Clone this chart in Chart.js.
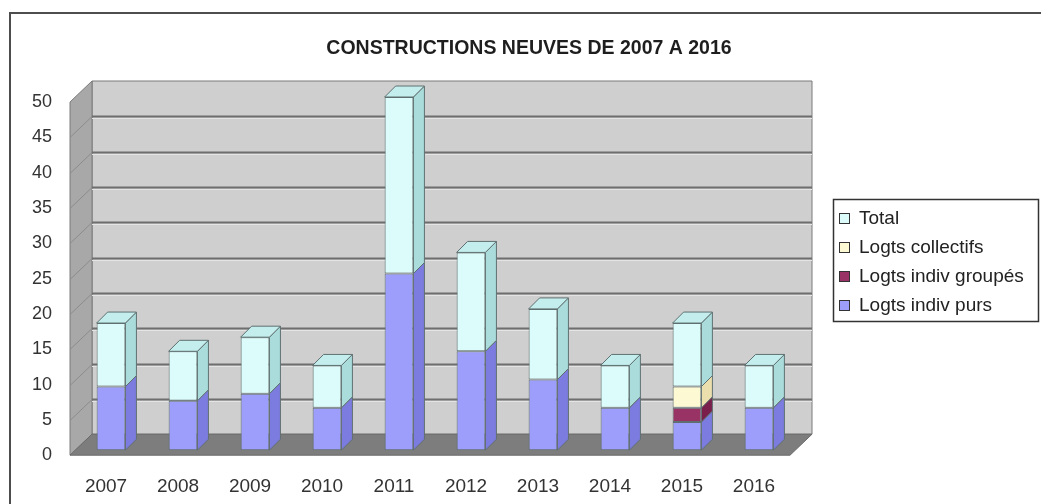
<!DOCTYPE html>
<html lang="fr">
<head>
<meta charset="utf-8">
<title>Constructions neuves de 2007 à 2016</title>
<script src="https://cdn.jsdelivr.net/npm/chart.js@4.4.1/dist/chart.umd.min.js"></script>
<style>
    html, body { margin: 0; padding: 0; background: #ffffff; }
    #wrap { width: 1041px; height: 504px; }
</style>
</head>
<body>
<div id="wrap"><canvas id="constructionsChart" width="1041" height="504"></canvas></div>
<script>
/* ================================
   CONSTRUCTIONS NEUVES 2007 - 2016
   ================================ */

// Chart data
const years = ['2007', '2008', '2009', '2010', '2011', '2012', '2013', '2014', '2015', '2016'];
const indivPurs = [9, 7, 8, 6, 25, 14, 10, 6, 4, 6];
const indivGroupes = [0, 0, 0, 0, 0, 0, 0, 0, 2, 0];
const collectifs = [0, 0, 0, 0, 0, 0, 0, 0, 3, 0];
const total = [9, 7, 8, 6, 25, 14, 10, 6, 9, 6];
const yMax = 50;
const yStep = 5;

const chartTitle = 'CONSTRUCTIONS NEUVES DE 2007 A 2016';
const FONT = '"Liberation Sans", Arial, sans-serif';

// 3D depth of the walls and of the bars
const WALL_DX = 22, WALL_DY = 21;
const BAR_DX = 11, BAR_DY = 11;
const BAR_SHIFT = 5;

function fillPoly(ctx, pts, fill, stroke) {
    ctx.beginPath();
    ctx.moveTo(pts[0][0], pts[0][1]);
    for (let i = 1; i < pts.length; i++) ctx.lineTo(pts[i][0], pts[i][1]);
    ctx.closePath();
    ctx.fillStyle = fill;
    ctx.fill();
    if (stroke) {
        ctx.strokeStyle = stroke;
        ctx.lineWidth = 1;
        ctx.stroke();
    }
}

// Fake 3D: walls, floor, bar sides and tops
const threeDPlugin = {
    id: 'threeD',
    beforeDatasetsDraw(chart) {
        const ctx = chart.ctx;
        const a = chart.chartArea;
        const y = chart.scales.y;
        ctx.save();

        // back wall
        fillPoly(ctx, [
            [a.left + WALL_DX, a.top - WALL_DY], [a.right + WALL_DX, a.top - WALL_DY],
            [a.right + WALL_DX, a.bottom - WALL_DY], [a.left + WALL_DX, a.bottom - WALL_DY]
        ], '#cfcfcf', '#7a7a7a');

        // left wall
        fillPoly(ctx, [
            [a.left, a.top], [a.left + WALL_DX, a.top - WALL_DY],
            [a.left + WALL_DX, a.bottom - WALL_DY], [a.left, a.bottom]
        ], '#a8a8a8', '#7a7a7a');

        // grid lines on the walls
        y.ticks.forEach(function(t) {
            if (t.value <= 0 || t.value >= yMax) return;
            const py = Math.round(y.getPixelForValue(t.value)) + 0.5;
            ctx.strokeStyle = '#6e6e6e';
            ctx.lineWidth = 2;
            ctx.beginPath();
            ctx.moveTo(a.left + WALL_DX, py - WALL_DY);
            ctx.lineTo(a.right + WALL_DX, py - WALL_DY);
            ctx.stroke();
            ctx.strokeStyle = '#e4e4e4';
            ctx.lineWidth = 1;
            ctx.beginPath();
            ctx.moveTo(a.left + WALL_DX, py - WALL_DY + 2);
            ctx.lineTo(a.right + WALL_DX, py - WALL_DY + 2);
            ctx.stroke();
            ctx.strokeStyle = '#8c8c8c';
            ctx.lineWidth = 1;
            ctx.beginPath();
            ctx.moveTo(a.left, py);
            ctx.lineTo(a.left + WALL_DX, py - WALL_DY);
            ctx.stroke();
        });

        // floor
        fillPoly(ctx, [
            [a.left, a.bottom], [a.right, a.bottom],
            [a.right + WALL_DX, a.bottom - WALL_DY], [a.left + WALL_DX, a.bottom - WALL_DY]
        ], '#7d7d7d', '#6a6a6a');

        ctx.restore();

        // bars stand a little inside the floor
        ctx.save();
        ctx.translate(BAR_SHIFT, -BAR_SHIFT);
    },
    afterDatasetsDraw(chart) {
        const ctx = chart.ctx;
        const metas = chart.getSortedVisibleDatasetMetas().slice().sort(function(m1, m2) { return m1.index - m2.index; });

        years.forEach(function(year, i) {
            // topmost non empty segment gets the top face
            let topIndex = -1;
            metas.forEach(function(meta, k) {
                if (chart.data.datasets[meta.index].data[i] > 0) topIndex = k;
            });
            metas.forEach(function(meta, k) {
                const ds = chart.data.datasets[meta.index];
                if (!(ds.data[i] > 0)) return;
                const el = meta.data[i];
                const p = el.getProps(['x', 'y', 'base', 'width'], true);
                const left = p.x - p.width / 2;
                const right = p.x + p.width / 2;
                fillPoly(ctx, [
                    [right, p.y], [right + BAR_DX, p.y - BAR_DY],
                    [right + BAR_DX, p.base - BAR_DY], [right, p.base]
                ], ds.sideColor, '#607070');
                if (k === topIndex) {
                    fillPoly(ctx, [
                        [left, p.y], [right, p.y],
                        [right + BAR_DX, p.y - BAR_DY], [left + BAR_DX, p.y - BAR_DY]
                    ], ds.topColor, '#607070');
                }
            });
        });

        ctx.restore();
    },
    afterDraw(chart) {
        const ctx = chart.ctx;
        ctx.save();

        // outer frame
        ctx.strokeStyle = '#4d4d4d';
        ctx.lineWidth = 2;
        ctx.strokeRect(10, 13, 1060, 520);

        // title
        ctx.fillStyle = '#1e1e1e';
        ctx.font = 'bold 19.5px ' + FONT;
        ctx.textAlign = 'center';
        ctx.textBaseline = 'middle';
        ctx.fillText(chartTitle, 529, 49);

        // legend (reverse order, like the stack)
        const items = chart.data.datasets.slice().reverse();
        ctx.fillStyle = '#ffffff';
        ctx.fillRect(833, 199, 206, 123);
        ctx.strokeStyle = '#333333';
        ctx.lineWidth = 1.5;
        ctx.strokeRect(833.5, 199.5, 205, 122);
        ctx.font = '19px ' + FONT;
        ctx.textAlign = 'left';
        items.forEach(function(ds, i) {
            const cy = 218 + i * 29;
            ctx.fillStyle = ds.backgroundColor;
            ctx.fillRect(839, cy - 5, 11, 11);
            ctx.strokeStyle = '#333333';
            ctx.lineWidth = 1;
            ctx.strokeRect(839.5, cy - 4.5, 10, 10);
            ctx.fillStyle = '#222222';
            ctx.fillText(ds.label, 859, cy + 1);
        });

        ctx.restore();
    }
};

document.addEventListener('DOMContentLoaded', function() {
    initializeConstructionsChart();
});

// Initialize stacked bar chart
function initializeConstructionsChart() {
    const ctx = document.getElementById('constructionsChart');

    if (!ctx) return;

    new Chart(ctx, {
        type: 'bar',
        data: {
            labels: years,
            datasets: [
                {
                    label: 'Logts indiv purs',
                    data: indivPurs,
                    backgroundColor: '#9d9dfb',
                    sideColor: '#7c7ce0',
                    topColor: '#b5b5ff'
                },
                {
                    label: 'Logts indiv groupés',
                    data: indivGroupes,
                    backgroundColor: '#993366',
                    sideColor: '#7a1f4c',
                    topColor: '#b04a7c'
                },
                {
                    label: 'Logts collectifs',
                    data: collectifs,
                    backgroundColor: '#fdf9d2',
                    sideColor: '#ecdfae',
                    topColor: '#fffce0'
                },
                {
                    label: 'Total',
                    data: total,
                    backgroundColor: '#dcfcfc',
                    sideColor: '#aadcdc',
                    topColor: '#c4eeee'
                }
            ]
        },
        options: {
            responsive: false,
            animation: false,
            layout: {
                padding: { top: 102, left: 14, right: 251, bottom: -14 }
            },
            datasets: {
                bar: {
                    categoryPercentage: 1,
                    barPercentage: 0.4,
                    borderWidth: 1,
                    borderColor: '#5f6f6f',
                    borderSkipped: false,
                    clip: false
                }
            },
            plugins: {
                legend: { display: false },
                title: { display: false },
                tooltip: { enabled: false }
            },
            scales: {
                x: {
                    stacked: true,
                    grid: { display: false, drawTicks: false },
                    border: { display: false },
                    ticks: {
                        color: '#333333',
                        font: { family: FONT, size: 19 },
                        padding: 20
                    }
                },
                y: {
                    stacked: true,
                    min: 0,
                    max: yMax,
                    grid: { display: false, drawTicks: false },
                    border: { display: false },
                    ticks: {
                        stepSize: yStep,
                        color: '#333333',
                        font: { family: FONT, size: 18 },
                        padding: 18
                    }
                }
            }
        },
        plugins: [threeDPlugin]
    });
}
</script>
</body>
</html>
